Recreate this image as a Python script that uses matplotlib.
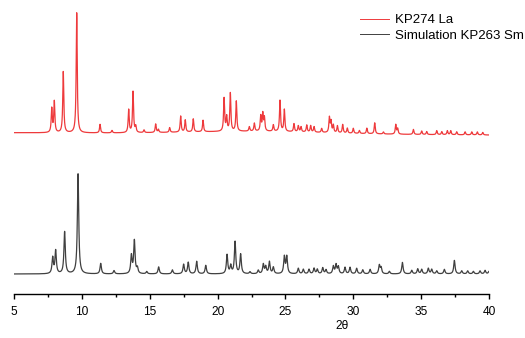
import numpy as np
import matplotlib
matplotlib.use("Agg")
import matplotlib.pyplot as plt
from matplotlib.ticker import MultipleLocator

plt.rcParams['font.family'] = ['Liberation Sans', 'DejaVu Sans']

# ---------- peak lists (2theta in degrees, intensity in a.u.) ----------
la_pos = [7.78, 7.97, 8.63, 9.62, 11.34, 12.22, 13.45, 13.77, 13.97, 14.58,
          15.44, 15.64, 16.47, 17.28, 17.62, 18.21, 18.93, 20.48, 20.67, 20.94,
          21.38, 22.34, 22.71, 23.18, 23.33, 23.45, 24.11, 24.60, 24.92, 25.63,
          25.95, 26.15, 26.57, 26.86, 27.11, 27.67, 28.24, 28.36, 28.53, 28.83,
          29.22, 29.56, 30.00, 30.45, 31.00, 31.58, 32.22, 33.13, 33.27, 34.43,
          35.04, 35.41, 36.15, 36.52, 36.93, 37.18, 37.62, 38.24, 38.73, 39.14,
          39.54]
la_int = [24, 31, 61, 120, 8.5, 2.4, 23, 41, 6, 2.7,
          8.5, 3, 4.7, 16, 12, 13, 11.5, 33, 14, 38,
          30, 4.5, 8, 15, 17, 13, 6.5, 31, 22, 8,
          6, 5, 7, 6.5, 5.5, 4, 15, 11, 7.5, 7,
          8.5, 5, 5, 3, 5.5, 11, 2, 9.5, 5.5, 5,
          3.5, 3, 4, 3, 4, 4, 3, 3, 3, 3,
          2.5]

sm_pos = [7.85, 8.07, 8.73, 9.72, 11.39, 12.37, 13.65, 13.87, 14.09, 14.78,
          15.66, 16.67, 17.50, 17.84, 18.46, 19.13, 20.70, 20.97, 21.29, 21.70,
          22.39, 23.00, 23.37, 23.55, 23.82, 24.11, 24.92, 25.10, 25.95, 26.32,
          26.74, 27.11, 27.35, 27.75, 27.99, 28.53, 28.73, 28.90, 29.39, 29.76,
          30.25, 30.70, 31.24, 31.92, 32.05, 32.66, 33.62, 34.31, 34.75, 35.04,
          35.53, 35.78, 36.15, 36.71, 37.45, 37.99, 38.43, 38.85, 39.34, 39.71,
          40.00]
sm_int = [16, 23, 42, 100, 10.5, 3.3, 18, 33, 5.5, 2.3,
          7, 4, 9.5, 11.5, 12.5, 8.5, 19, 8, 32, 19.5,
          2, 3.5, 9.5, 7, 12, 6.5, 17, 17, 5.5, 4.5,
          4.5, 5.5, 4.5, 6, 4, 7.5, 9, 7, 6.5, 6.5,
          5.5, 4, 4.5, 8.5, 6, 2.5, 11.5, 3.5, 5, 4.5,
          5.5, 4.5, 3, 4.5, 13.5, 3, 3, 2.5, 3, 3.5,
          2.5]

la_offset = 161.3
sm_offset = 20.0


def pattern(x, pos, inten, fwhm):
    """Sum of Lorentzian peaks."""
    g = fwhm / 2.0
    y = np.zeros_like(x)
    for p, h in zip(pos, inten):
        y += h * g**2 / ((x - p)**2 + g**2)
    return y


x_la = np.arange(5.0, 40.08, 0.01)
x_sm = np.arange(5.0, 40.0001, 0.01)

# measured pattern sits on a weak sloping background with an amorphous hump
bg_la = -0.066 * (x_la - 5) + 2.5 * np.exp(-0.5 * ((x_la - 23) / 5.0)**2)
y_la = la_offset + bg_la + pattern(x_la, la_pos, la_int, 0.09)
y_sm = sm_offset + pattern(x_sm, sm_pos, sm_int, 0.12)

fig = plt.figure(figsize=(5.25, 3.38), dpi=100)
ax = fig.add_axes([14 / 525, 44 / 338, 475 / 525, 294 / 338])

ax.plot(x_la, y_la, color='#ee3a3c', lw=0.9, label='KP274 La')
ax.plot(x_sm, y_sm, color='#404040', lw=0.9, label='Simulation KP263 Sm')

ax.set_xlim(5, 40)
ax.set_ylim(0, 294)
for side in ['left', 'right', 'top']:
    ax.spines[side].set_visible(False)
ax.spines['bottom'].set_linewidth(1.0)
ax.set_yticks([])
ax.xaxis.set_major_locator(MultipleLocator(5))
ax.xaxis.set_minor_locator(MultipleLocator(2.5))
ax.tick_params(axis='x', which='major', direction='out', length=3.6, width=1.0,
               labelsize=8.6, pad=5)
ax.tick_params(axis='x', which='minor', direction='out', length=2.2, width=1.0)

ax.set_xlabel('2θ', fontsize=8.6, va='top')
ax.xaxis.set_label_coords(0.69, -0.09)

leg = ax.legend(loc='upper left', bbox_to_anchor=(360 / 525, 1 - 14 / 338),
                bbox_transform=fig.transFigure, frameon=False, fontsize=9.5,
                handlelength=2.2, handletextpad=0.45, labelspacing=0.25,
                borderaxespad=0, borderpad=0)
for line in leg.get_lines():
    line.set_linewidth(0.7)

fig.savefig('out.png', dpi=100)
